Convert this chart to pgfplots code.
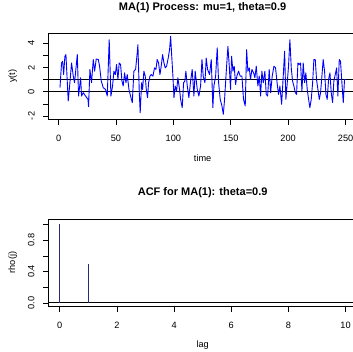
\documentclass[border=0pt]{standalone}
\usepackage{pgfplots}
\pgfplotsset{compat=1.18}
\usepackage{fontspec}
\setmainfont{Liberation Sans}
\definecolor{acfcol}{RGB}{40,40,125}
\pgfplotstableread{
t y
1.2 0.33
2.6 2.38
3.5 2.52
4.4 1.42
5.5 2.93
6.4 3.07
8.4 -0.77
9.6 0.47
11.3 2.38
12.8 1.29
13.9 0.74
16.3 3.07
17.4 -0.36
19.2 1.15
20.0 -0.36
21.5 -0.08
23.5 -0.36
25.6 -0.63
26.1 -1.23
27.3 1.84
28.7 0.74
30.2 2.66
31.4 1.70
32.8 2.71
34.6 2.66
35.7 2.11
37.2 0.88
38.9 0.33
40.9 0.19
42.4 -0.36
44.1 4.30
45.6 -0.36
47.0 0.47
48.2 1.70
49.4 1.42
50.5 2.25
51.7 1.01
52.8 2.38
54.0 2.25
55.2 0.88
56.3 0.47
57.5 1.56
58.7 0.74
59.8 1.42
61.3 0.19
62.7 -0.36
64.2 -0.90
65.6 1.70
67.1 1.84
68.5 3.21
69.1 3.89
70.3 -0.08
71.1 -1.73
72.3 0.74
73.2 0.19
74.3 1.70
75.5 1.29
76.4 0.19
77.5 -0.49
78.4 0.74
79.6 1.29
80.7 1.42
82.2 1.29
83.6 1.97
84.8 1.84
85.9 2.66
87.1 2.38
88.3 1.42
89.4 2.11
90.6 3.07
91.8 2.38
92.9 1.97
94.1 2.11
95.5 2.79
96.7 3.48
97.6 4.58
98.4 3.21
99.6 1.29
100.5 -0.49
101.6 0.47
102.8 0.05
103.9 1.15
105.4 0.19
106.3 -0.63
107.7 -1.32
108.9 0.74
110.0 0.88
110.9 1.70
112.1 0.47
113.5 -0.49
115.0 0.88
116.4 1.84
117.9 -0.36
119.0 1.70
120.8 0.19
122.2 -0.36
123.7 0.47
124.9 2.66
126.0 1.29
127.5 0.74
128.6 2.79
129.8 1.84
131.5 1.42
133.0 2.66
134.4 -1.32
135.3 0.47
136.8 1.29
138.2 3.62
139.4 0.74
140.8 -0.63
142.3 -1.18
143.5 -1.86
144.6 -0.63
146.0 1.56
147.5 3.75
148.7 2.11
149.8 0.19
150.7 2.93
151.9 1.70
153.0 2.11
154.2 0.60
155.3 1.29
156.8 1.70
158.2 1.29
159.7 1.29
161.1 -0.63
162.6 -1.18
163.8 3.48
164.9 1.70
166.1 1.97
167.2 1.01
168.4 1.84
169.9 1.56
171.0 1.15
172.2 2.11
173.6 0.47
174.8 1.29
176.0 -0.36
177.1 1.70
178.3 0.74
179.7 1.70
180.9 -0.22
182.1 -0.36
183.5 1.84
184.7 -0.08
186.1 1.29
187.6 2.11
189.0 1.97
190.5 0.60
191.6 -0.22
192.8 0.47
194.3 -1.04
195.7 1.29
196.9 3.34
198.0 -0.63
199.2 0.74
200.3 2.11
201.5 4.30
202.7 1.97
203.8 0.88
205.0 0.47
206.2 -0.08
207.3 -0.22
208.5 2.38
209.6 2.25
210.8 2.38
212.0 0.05
213.1 2.38
214.3 0.74
215.4 1.56
216.6 0.19
217.8 -0.63
218.9 -1.32
220.1 -0.63
221.3 0.74
222.4 2.66
223.6 2.66
224.7 1.01
225.9 0.19
227.1 -0.63
228.2 -0.08
229.4 1.29
230.5 2.66
231.7 1.70
232.9 -0.22
234.0 -0.63
235.2 1.01
236.4 1.56
237.5 -0.08
238.7 -0.90
239.8 0.88
241.0 1.42
242.2 1.97
243.3 -0.36
244.5 2.66
245.6 2.52
246.8 0.74
248.0 -0.90
249.1 1.01
250.0 1.01
}\seriestable
\pgfplotsset{
  rstyle/.style={
    scale only axis,
    width=308.7pt,
    axis line style={line width=0.8pt},
    tick align=outside,
    xtick pos=left, ytick pos=left,
    major tick length=5.5pt,
    tick style={black, line width=0.6pt},
    ticklabel style={font=\fontsize{9.2}{10}\selectfont},
    /pgf/number format/assume math mode=true,
    xticklabel style={anchor=center, yshift=-13.5pt},
    yticklabel style={anchor=center, xshift=-11.5pt, rotate=90},
    title style={at={(axis description cs:0.5,1)}, anchor=center, yshift=20pt, font=\bfseries\fontsize{11}{12}\selectfont},
    label style={font=\fontsize{9.2}{10}\selectfont},
    xlabel style={at={(axis description cs:0.5,0)}, anchor=center, yshift=-39pt},
    ylabel style={at={(axis description cs:-0.115,0.5)}, anchor=center},
  }
}
\begin{document}
\begin{tikzpicture}
\path[use as bounding box] (0,0) rectangle (353pt,351pt);
\clip (0,0) rectangle (353pt,351pt);
\begin{axis}[rstyle,
  at={(48.3pt,231.7pt)}, anchor=south west,
  height=86pt,
  xmin=-8.96, xmax=259.96, ymin=-2.28, ymax=4.83,
  xtick={0,50,100,150,200,250},
  ytick={-2,-1,0,1,2,3,4},
  yticklabels={-2,,0,,2,,4},
  title={MA(1) Process: mu=1, theta=0.9},
  xlabel={time}, ylabel={y(t)},
]
\addplot[black, line width=0.8pt] coordinates {(-8.96,0) (259.96,0)};
\addplot[black, line width=0.8pt] coordinates {(-8.96,1) (259.96,1)};
\addplot[blue, line width=0.9pt, line join=round] table[x=t,y=y] {\seriestable};
\end{axis}
\begin{axis}[rstyle,
  at={(48.3pt,45pt)}, anchor=south west,
  height=87pt,
  xmin=-0.4, xmax=10.4, ymin=-0.04, ymax=1.07,
  xtick={0,2,4,6,8,10},
  ytick={0,0.2,0.4,0.6,0.8,1.0},
  yticklabels={0.0,,0.4,,0.8,},
  title={ACF for MA(1): theta=0.9},
  xlabel={lag}, ylabel={rho(j)},
]
\addplot[black, line width=0.8pt] coordinates {(-0.4,0) (10.4,0)};
\addplot[ycomb, acfcol, line width=0.8pt, mark=none] coordinates {(0,1) (1,0.497) (2,0) (3,0) (4,0) (5,0) (6,0) (7,0) (8,0) (9,0) (10,0)};
\end{axis}
\end{tikzpicture}
\end{document}
